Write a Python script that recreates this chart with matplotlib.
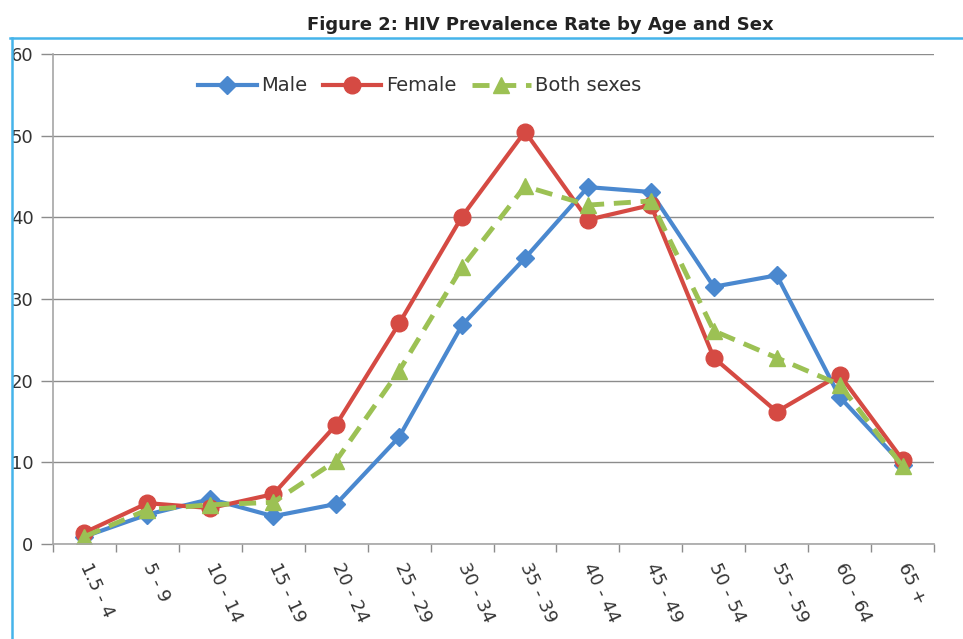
import matplotlib.pyplot as plt
from matplotlib.lines import Line2D
import numpy as np

plt.rcParams["font.family"] = ["DejaVu Sans"]

age_groups = ["1.5 - 4", "5 - 9", "10 - 14", "15 - 19", "20 - 24", "25 - 29",
              "30 - 34", "35 - 39", "40 - 44", "45 - 49", "50 - 54", "55 - 59",
              "60 - 64", "65 +"]
male = [0.9, 3.6, 5.5, 3.4, 4.9, 13.1, 26.8, 35.0, 43.7, 43.1, 31.5, 32.9, 18.0, 9.7]
female = [1.4, 5.0, 4.4, 6.1, 14.6, 27.0, 40.1, 50.5, 39.7, 41.5, 22.8, 16.2, 20.7, 10.3]
both = [0.9, 4.2, 4.8, 5.1, 10.2, 21.2, 33.9, 43.8, 41.5, 42.0, 26.1, 22.8, 19.5, 9.5]

BLUE = "#4a88cf"
RED = "#d54a43"
GREEN = "#9cc154"
GRID = "#8c8c8c"
TXT = "#333333"

fig = plt.figure(figsize=(9.63, 6.39), dpi=100)
ax = fig.add_axes([0.055, 0.1487, 0.915, 0.7668])

x = np.arange(len(age_groups))
ax.plot(x, male, "-D", color=BLUE, lw=3, ms=9, label="Male")
ax.plot(x, female, "-o", color=RED, lw=3, ms=12, label="Female")
ax.plot(x, both, "--^", color=GREEN, lw=3.5, ms=11, dashes=(3.5, 2),
        label="Both sexes")

ax.set_xlim(-0.5, len(age_groups) - 0.5)
ax.set_ylim(0, 60)
ax.set_yticks(range(0, 61, 10))
ax.set_xticks(x)
ax.set_xticklabels(age_groups, rotation=-65, ha="left", va="center",
                   rotation_mode="anchor", fontsize=13, color=TXT)
ax.set_xticks(np.arange(-0.5, len(age_groups)), minor=True)
ax.tick_params(axis="x", which="major", length=0, pad=14)
ax.tick_params(axis="x", which="minor", length=6, color=GRID, width=1)
ax.tick_params(axis="y", length=9, color=GRID, width=1, labelsize=13,
               labelcolor=TXT, pad=5)

ax.yaxis.grid(True, color=GRID, lw=1)
ax.set_axisbelow(True)
for side in ["top", "right"]:
    ax.spines[side].set_visible(False)
for side in ["left", "bottom"]:
    ax.spines[side].set_color("#a6a6a6")
    ax.spines[side].set_linewidth(1.2)

ax.legend(loc="upper left", bbox_to_anchor=(0.145, 0.99), ncol=3, frameon=False,
          fontsize=14, handlelength=3.0, handletextpad=0.25, columnspacing=0.8,
          labelcolor=TXT)

fig.text(0.561, 0.961, "Figure 2: HIV Prevalence Rate by Age and Sex",
         ha="center", va="center", fontsize=13, fontweight="bold", color="#222222")

# light blue page frame
fig.add_artist(Line2D([10 / 963, 1], [1 - 38 / 639] * 2, color="#45b4ea", lw=1.8,
                      transform=fig.transFigure))
fig.add_artist(Line2D([12 / 963] * 2, [0, 1 - 38 / 639], color="#45b4ea", lw=1.8,
                      transform=fig.transFigure))

fig.savefig("out.png", dpi=100)
